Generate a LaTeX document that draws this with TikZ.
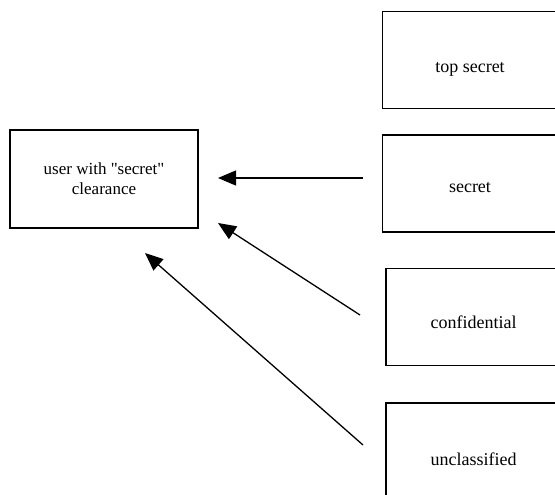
\documentclass[tikz,border=0pt]{standalone}
\usepackage{fontspec}
\setmainfont{Liberation Serif}
\usetikzlibrary{arrows.meta}
\tikzset{
  level/.style={draw, line width=1.4pt, minimum width=175pt, minimum height=97pt, text height=18pt, text depth=0pt, font=\fontsize{18}{20}\selectfont},
  flow/.style={line width=1.3pt, -{Triangle[length=18pt,width=15pt]}}
}
\begin{document}
\begin{tikzpicture}[x=1pt,y=-1pt]
\useasboundingbox (0,0) rectangle (555,495);
% the user
\node[draw, line width=1.4pt, minimum width=188pt, minimum height=98pt, align=center, font=\fontsize{17}{20}\selectfont] (user) at (104,179) {user with \textquotedbl secret\textquotedbl\\clearance};
% classification levels
\node[level, text height=26pt] (topsecret) at (470,60) {top secret};
\node[level] (secret) at (470,183.5) {secret};
\node[level, text height=22pt] (confidential) at (473.5,317) {confidential};
\node[level, minimum height=112pt, text height=12pt] (unclassified) at (473.5,459) {unclassified};
% arrow ends
\coordinate (s1) at (363,178);
\coordinate (t1) at (218,178);
\coordinate (s2) at (360,315);
\coordinate (t2) at (218,223);
\coordinate (s3) at (363,445);
\coordinate (t3) at (145,253);
\draw[flow] (s1) -- (t1);
\draw[flow] (s2) -- (t2);
\draw[flow] (s3) -- (t3);
\end{tikzpicture}
\end{document}
